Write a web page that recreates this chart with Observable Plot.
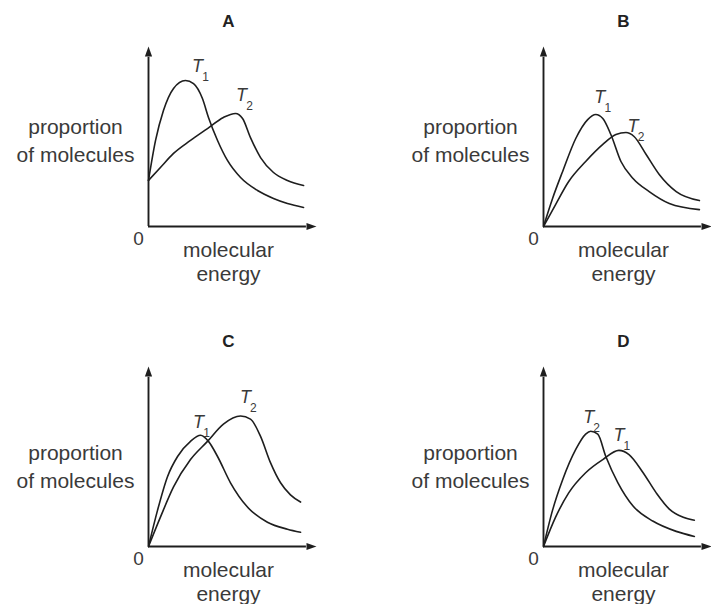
<!DOCTYPE html>
<html><head><meta charset="utf-8">
<script src="https://cdn.jsdelivr.net/npm/d3@7"></script>
<script src="https://cdn.jsdelivr.net/npm/@observablehq/plot@0.6"></script>
<style>
body{margin:0;background:#fff;}
#wrap{position:relative;width:711px;height:604px;overflow:hidden;background:#fff;}
.panel{position:absolute;}
</style></head><body><div id="wrap"></div>
<script>
// Panel letters
const panels = ["A", "B", "C", "D"];
// Axis labels
const yLabel = "proportion\nof molecules";
const xLabel = "molecular\nenergy";
const originLabel = "0";

// Curves: [molecular energy, proportion of molecules] (arbitrary units 0–10)
const curveA_T1 = [[0,2.56],[0.42,4.78],[0.89,6.44],[1.49,7.67],[2.20,8.11],[2.68,7.94],[3.21,7.11],[3.57,6.06],[4.11,4.78],[4.70,3.67],[5.48,2.72],[6.49,2.0],[7.44,1.56],[8.27,1.28],[9.23,1.06]];
const curveA_T2 = [[0,2.56],[0.71,3.28],[1.49,4.06],[2.5,4.78],[3.51,5.44],[4.46,6.06],[5.18,6.28],[5.60,6.0],[6.07,4.94],[6.67,3.83],[7.44,3.0],[8.27,2.56],[9.23,2.28]];
const curveB_T1 = [[0,0],[0.54,1.56],[1.14,3.06],[1.92,4.89],[2.63,5.94],[3.11,6.22],[3.53,6.0],[4.01,5.11],[4.61,3.61],[5.33,2.67],[6.29,1.94],[7.49,1.28],[9.28,0.94]];
const curveB_T2 = [[0,0],[0.72,1.22],[1.50,2.50],[2.51,3.61],[3.53,4.56],[4.31,5.11],[4.91,5.22],[5.39,5.0],[6.11,4.0],[6.89,2.89],[7.90,1.94],[9.28,1.44]];
const curveC_T1 = [[0,0],[0.54,2.02],[1.13,3.88],[1.73,5.0],[2.5,5.84],[3.10,6.18],[3.57,5.84],[4.11,5.0],[4.88,3.54],[5.89,2.19],[7.08,1.35],[8.27,0.96],[9.05,0.79]];
const curveC_T2 = [[0,0],[0.71,1.63],[1.49,3.31],[2.5,4.83],[3.51,5.84],[4.46,6.80],[5.48,7.25],[6.07,7.08],[6.67,6.12],[7.26,4.66],[7.86,3.54],[8.45,2.87],[9.05,2.47]];
const curveD_T1 = [[0,0],[0.72,1.63],[1.50,2.98],[2.51,4.10],[3.53,4.83],[4.49,5.34],[5.09,5.11],[5.93,4.10],[6.71,2.98],[7.49,2.08],[8.32,1.62],[8.98,1.46]];
const curveD_T2 = [[0,0],[0.54,2.02],[1.14,3.71],[1.92,5.39],[2.51,6.24],[2.81,6.40],[3.23,6.24],[3.71,5.0],[4.43,3.54],[5.33,2.25],[6.53,1.40],[7.90,0.84],[8.98,0.56]];

// Curve labels: [panel, subscript, energy, proportion]
const curveLabels = [
  ["A","1",2.92,8.89],["A","2",5.54,7.28],
  ["B","1",3.35,7.17],["B","2",5.33,5.58],
  ["C","1",2.98,6.89],["C","2",5.77,8.28],
  ["D","1",4.49,6.17],["D","2",2.69,7.17]
];

const curves = {
  A: [curveA_T1, curveA_T2], B: [curveB_T1, curveB_T2],
  C: [curveC_T1, curveC_T2], D: [curveD_T1, curveD_T2]
};

const font = "Liberation Sans, Arial, Helvetica, sans-serif";
const ink = "#1e1e1e";
const textInk = "#3a3a3a";

const upArrow = {draw(ctx){ ctx.moveTo(0,0); ctx.lineTo(3.6,10); ctx.lineTo(-3.6,10); ctx.closePath(); }};
const rightArrow = {draw(ctx){ ctx.moveTo(0,0); ctx.lineTo(-10,3.6); ctx.lineTo(-10,-3.6); ctx.closePath(); }};

const wrap = document.getElementById("wrap");

panels.forEach((p, i) => {
  const col = i % 2, row = Math.floor(i / 2);
  const [c1, c2] = curves[p];
  const series = [...c1.map(d => ({e: d[0], v: d[1], s: "T1"})), ...c2.map(d => ({e: d[0], v: d[1], s: "T2"}))];
  const labs = curveLabels.filter(d => d[0] === p);
  const chart = Plot.plot({
    width: 316, height: 284,
    marginLeft: 148, marginRight: 0, marginTop: 46, marginBottom: 58,
    x: {domain: [0, 10], axis: null},
    y: {domain: [0, 10], axis: null},
    style: {fontFamily: font, background: "transparent", overflow: "visible"},
    marks: [
      Plot.ruleX([0], {y1: 0, y2: 9.4, stroke: ink, strokeWidth: 1.9}),
      Plot.ruleY([0], {x1: 0, x2: 9.4, stroke: ink, strokeWidth: 1.9}),
      Plot.dot([[0, 10]], {x: d => d[0], y: d => d[1], symbol: upArrow, r: 3, fill: ink, stroke: "none"}),
      Plot.dot([[10, 0]], {x: d => d[0], y: d => d[1], symbol: rightArrow, r: 3, fill: ink, stroke: "none"}),
      Plot.line(series, {x: "e", y: "v", z: "s", curve: "monotone-x", stroke: ink, strokeWidth: 1.6}),
      Plot.text(labs, {x: d => d[2], y: d => d[3], text: () => "T", fontStyle: "italic", fontSize: 18, fill: textInk}),
      Plot.text(labs, {x: d => d[2], y: d => d[3], text: d => d[1], dx: 8, dy: 11, fontSize: 12, fill: textInk}),
      Plot.text([p], {text: d => d, frameAnchor: "top", textAnchor: "middle", lineAnchor: "middle", dx: -4, dy: -24.5, fontSize: 17, fontWeight: "bold", fill: "#222"}),
      Plot.text([yLabel], {text: d => d, frameAnchor: "left", textAnchor: "middle", lineAnchor: "middle", dx: -73, dy: row ? 9 : 3, fontSize: 21, lineHeight: 1.33, fill: textInk}),
      Plot.text([xLabel], {text: d => d, frameAnchor: "bottom", textAnchor: "middle", lineAnchor: "middle", dx: -4, dy: 34.5, fontSize: 21, lineHeight: 1.19, fill: textInk}),
      Plot.text([originLabel], {text: d => d, frameAnchor: "bottom-left", textAnchor: "middle", lineAnchor: "middle", dx: -10, dy: 12, fontSize: 19, fill: textInk})
    ]
  });
  const div = document.createElement("div");
  div.className = "panel";
  div.style.left = (col * 395) + "px";
  div.style.top = (row * 320) + "px";
  div.appendChild(chart);
  wrap.appendChild(div);
});
</script>
</body></html>
